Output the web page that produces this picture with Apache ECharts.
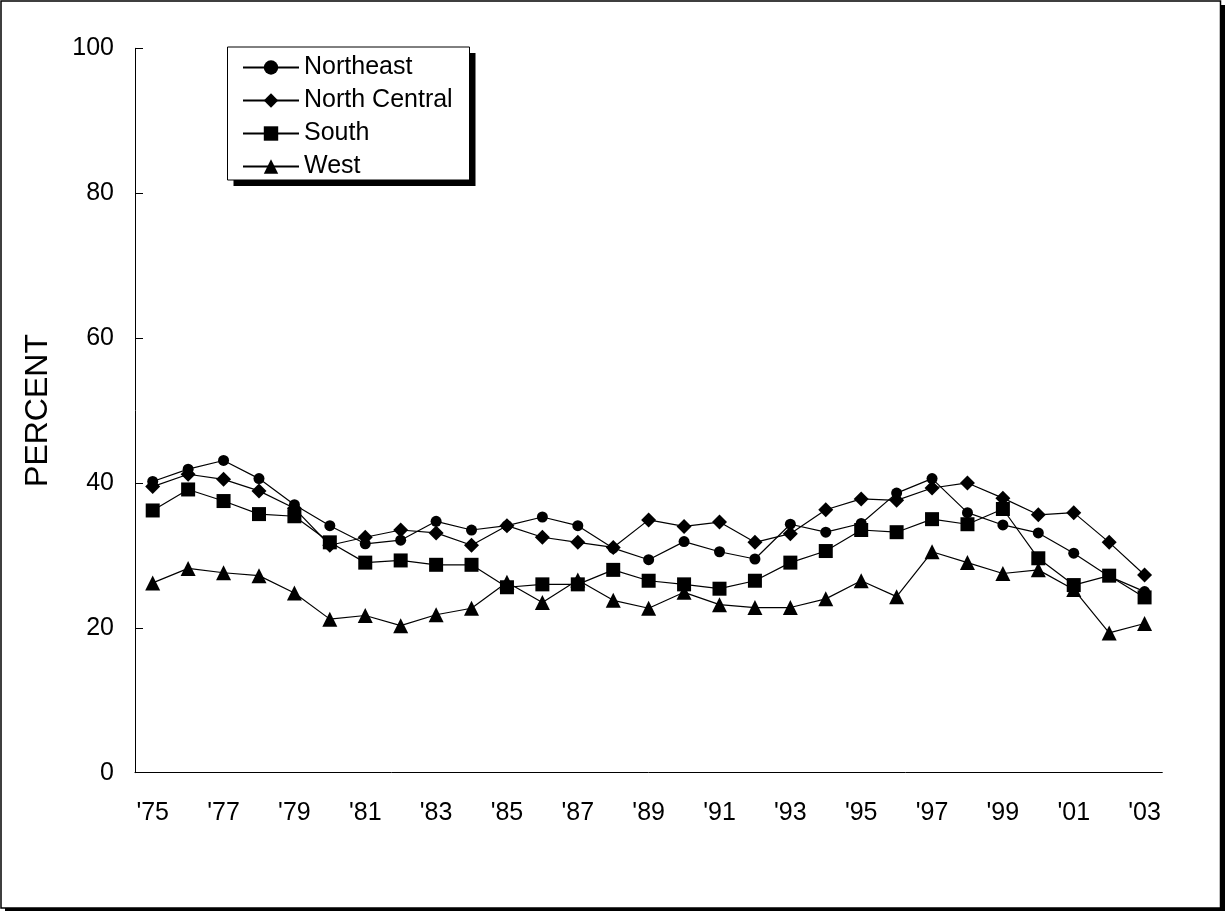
<!DOCTYPE html>
<html>
<head>
<meta charset="utf-8">
<script src="https://cdn.jsdelivr.net/npm/echarts@6/dist/echarts.min.js"></script>
<style>html,body{margin:0;padding:0;background:#fff}#c{width:1225px;height:911px}</style>
</head>
<body>
<div id="c"></div>
<script>
const years = ["'75","'76","'77","'78","'79","'80","'81","'82","'83","'84","'85","'86","'87","'88","'89","'90","'91","'92","'93","'94","'95","'96","'97","'98","'99","'00","'01","'02","'03"];
const northeast = [40.2,41.9,43.1,40.6,37.0,34.1,31.6,32.1,34.7,33.5,34.1,35.3,34.1,31.0,29.4,31.9,30.5,29.5,34.3,33.2,34.4,38.6,40.6,35.9,34.2,33.1,30.3,27.1,25.0];
const northCentral = [39.5,41.2,40.5,38.9,36.5,31.4,32.5,33.5,33.1,31.4,34.1,32.5,31.8,31.1,34.9,34.0,34.6,31.8,33.0,36.3,37.8,37.6,39.3,40.0,37.9,35.6,35.9,31.8,27.3];
const south = [36.2,39.1,37.5,35.7,35.4,31.8,29.0,29.3,28.7,28.7,25.6,26.0,26.0,28.0,26.5,26.0,25.4,26.5,29.0,30.6,33.5,33.2,35.0,34.3,36.4,29.6,25.9,27.2,24.2];
const west = [26.2,28.2,27.6,27.2,24.8,21.2,21.7,20.3,21.8,22.7,26.3,23.5,26.6,23.8,22.7,24.9,23.2,22.8,22.8,24.0,26.5,24.3,30.5,29.0,27.5,28.0,25.3,19.3,20.6];
const yTicks = {min: 0, max: 100, interval: 20};

const FONT = "'Liberation Sans', Arial, sans-serif";
const chart = echarts.init(document.getElementById('c'), null, {renderer: 'canvas'});
function mk(name, data, symbol, size) {
  return {
    name: name, type: 'line', data: data, symbol: symbol, symbolSize: size,
    showAllSymbol: true, animation: false,
    lineStyle: {color: '#000', width: 1.2},
    itemStyle: {color: '#000', borderColor: '#000', borderWidth: 0}
  };
}
chart.setOption({
  backgroundColor: '#fff',
  animation: false,
  graphic: [
    {type: 'rect', z: -10, shape: {x: 5, y: 5, width: 1220, height: 906}, style: {fill: '#000'}},
    {type: 'rect', z: -9, shape: {x: 1, y: 1, width: 1219.5, height: 907}, style: {fill: '#fff', stroke: '#000', lineWidth: 1.5}},
    {type: 'rect', z: 1, shape: {x: 233.5, y: 53, width: 242, height: 133}, style: {fill: '#000'}},
    {type: 'rect', z: 1, shape: {x: 227.5, y: 47, width: 242, height: 133}, style: {fill: '#fff', stroke: '#000', lineWidth: 1}}
  ],
  grid: {left: 135, right: 62.7, top: 48.3, bottom: 138.3, containLabel: false},
  legend: {
    orient: 'vertical', left: 227, top: 49,
    itemWidth: 56, itemHeight: 18, itemGap: 8,
    padding: [6, 11, 4, 15],
    z: 5,
    textStyle: {fontFamily: FONT, fontSize: 25, color: '#000'},
    data: ['Northeast', 'North Central', 'South', 'West']
  },
  xAxis: {
    type: 'category', data: years, boundaryGap: true,
    axisLine: {lineStyle: {color: '#000', width: 1}},
    axisTick: {inside: true, length: 8, interval: 0, lineStyle: {color: '#000'}},
    axisLabel: {interval: 1, fontFamily: FONT, fontSize: 25, color: '#000', margin: 28},
    splitLine: {show: false}
  },
  yAxis: {
    type: 'value', min: yTicks.min, max: yTicks.max, interval: yTicks.interval,
    name: 'PERCENT', nameLocation: 'middle', nameRotate: 90, nameGap: 81,
    nameTextStyle: {fontFamily: FONT, fontSize: 32, color: '#000'},
    axisLine: {show: true, lineStyle: {color: '#000', width: 1}},
    axisTick: {show: true, inside: true, length: 8, lineStyle: {color: '#000'}},
    axisLabel: {fontFamily: FONT, fontSize: 25, color: '#000', margin: 21},
    splitLine: {show: false}
  },
  series: [
    mk('Northeast', northeast, 'circle', 11),
    mk('North Central', northCentral, 'diamond', 15),
    mk('South', south, 'rect', 14),
    mk('West', west, 'triangle', 15)
  ]
});
</script>
</body>
</html>
